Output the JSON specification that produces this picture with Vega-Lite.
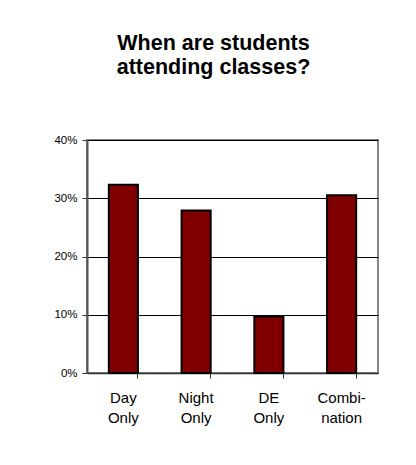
{
  "$schema": "https://vega.github.io/schema/vega-lite/v6.json",
  "width": 291,
  "height": 233,
  "autosize": {"type": "none"},
  "padding": {"left": 87, "top": 140, "right": 38, "bottom": 92},
  "background": "white",
  "title": {
    "text": ["When are students", "attending classes?"],
    "font": "Liberation Sans",
    "fontSize": 21.5,
    "fontWeight": "bold",
    "color": "black",
    "lineHeight": 24,
    "anchor": "middle",
    "dx": -19,
    "offset": 56
  },
  "data": {
    "values": [
      {"category": "Day Only", "share": 0.323},
      {"category": "Night Only", "share": 0.279},
      {"category": "DE Only", "share": 0.097},
      {"category": "Combination", "share": 0.305}
    ]
  },
  "mark": {"type": "bar", "color": "#800000", "stroke": "black", "strokeWidth": 2},
  "encoding": {
    "x": {
      "field": "category",
      "type": "nominal",
      "sort": null,
      "scale": {"paddingInner": 0.6, "paddingOuter": 0.3},
      "axis": {
        "title": null,
        "labelAngle": 0,
        "labelFont": "Liberation Sans",
        "labelFontSize": 15,
        "labelColor": "black",
        "labelLineHeight": 20,
        "labelPadding": 12,
        "labelExpr": "datum.label == 'Combination' ? ['Combi-', 'nation'] : split(datum.label, ' ')",
        "bandPosition": 1,
        "tickSize": 5,
        "tickColor": "#333333",
        "tickWidth": 1,
        "domainColor": "#333333",
        "domainWidth": 1.5,
        "grid": false
      }
    },
    "y": {
      "field": "share",
      "type": "quantitative",
      "scale": {"domain": [0, 0.4], "nice": false},
      "axis": {
        "title": null,
        "format": ".0%",
        "values": [0, 0.1, 0.2, 0.3, 0.4],
        "labelFont": "Liberation Sans",
        "labelFontSize": 11.5,
        "labelColor": "black",
        "labelPadding": 5,
        "tickSize": 5,
        "tickColor": "#333333",
        "domainColor": "#555555",
        "domainWidth": 2,
        "grid": true,
        "gridColor": "black",
        "gridWidth": 1
      }
    }
  },
  "config": {
    "view": {"stroke": "#888888", "strokeWidth": 2, "fill": "white"}
  }
}
